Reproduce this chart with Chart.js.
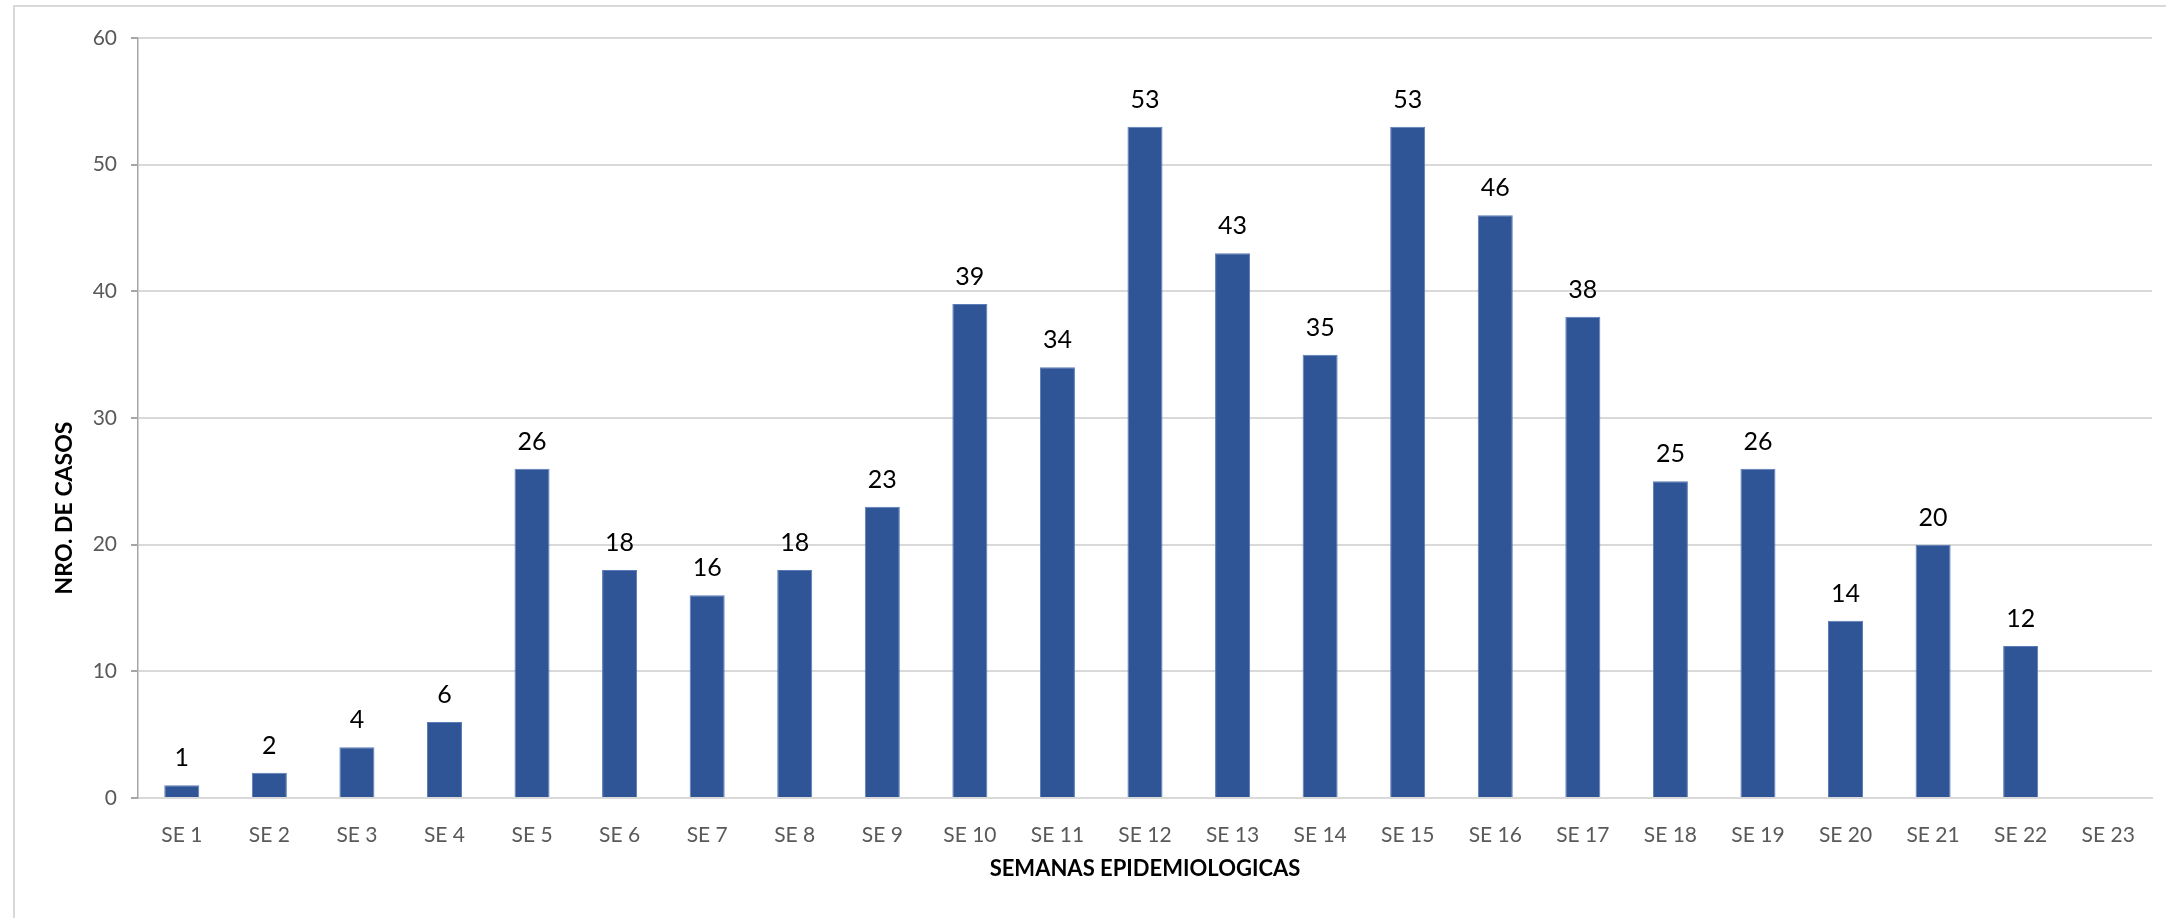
<!DOCTYPE html>
<html>
<head>
<meta charset="utf-8">
<script src="https://cdn.jsdelivr.net/npm/chart.js@4"></script>
<style>
  html, body { margin: 0; padding: 0; background: #fff; }
  #caja { width: 2166px; height: 918px; position: relative; }
</style>
</head>
<body>
<div id="caja"><canvas id="grafico"></canvas></div>
<script>
// semanas epidemiologicas y casos
const semanas = ['SE 1', 'SE 2', 'SE 3', 'SE 4', 'SE 5', 'SE 6', 'SE 7', 'SE 8', 'SE 9', 'SE 10', 'SE 11', 'SE 12',
  'SE 13', 'SE 14', 'SE 15', 'SE 16', 'SE 17', 'SE 18', 'SE 19', 'SE 20', 'SE 21', 'SE 22', 'SE 23'];
const casos = [1, 2, 4, 6, 26, 18, 16, 18, 23, 39, 34, 53, 43, 35, 53, 46, 38, 25, 26, 14, 20, 12, null];
const ticksY = [0, 10, 20, 30, 40, 50, 60];

const tituloX = 'SEMANAS EPIDEMIOLOGICAS';
const tituloY = 'NRO. DE CASOS';

// borde, titulos y etiquetas de valores
const extras = {
  id: 'extras',
  beforeDraw(chart) {
    const c = chart.ctx;
    c.save();
    c.strokeStyle = '#d9d9d9';
    c.lineWidth = 2;
    c.strokeRect(14, 6, 2300, 1100);
    c.restore();
  },
  afterDatasetsDraw(chart) {
    const c = chart.ctx;
    const area = chart.chartArea;
    c.save();
    c.fillStyle = '#000';
    c.font = '25px Lato';
    c.textAlign = 'center';
    c.textBaseline = 'middle';
    chart.getDatasetMeta(0).data.forEach((bar, i) => {
      if (casos[i] == null) return;
      c.fillText(casos[i], bar.x, bar.y - 27);
    });

    c.font = 'bold 22px Lato';
    c.fillText(tituloX, (area.left + area.right) / 2, 869);

    c.font = 'bold 23px Lato';
    c.translate(65, 508);
    c.rotate(-Math.PI / 2);
    c.fillText(tituloY, 0, 0);
    c.restore();
  }
};

const ctx = document.getElementById('grafico').getContext('2d');

new Chart(ctx, {
  type: 'bar',
  data: {
    labels: semanas,
    datasets: [{
      data: casos,
      backgroundColor: '#2f5597',
      borderColor: '#5a7bb5',
      borderWidth: 1,
      categoryPercentage: 1,
      barPercentage: 0.4
    }]
  },
  plugins: [extras],
  options: {
    responsive: true,
    maintainAspectRatio: false,
    animation: false,
    layout: { padding: { top: 38, right: 14, left: 0, bottom: 0 } },
    plugins: {
      legend: { display: false },
      tooltip: { enabled: false }
    },
    scales: {
      x: {
        grid: { display: false },
        border: { color: '#d9d9d9', width: 2 },
        ticks: { color: '#595959', font: { family: 'Lato', size: 21 }, padding: 17, maxRotation: 0 },
        afterFit(s) { s.height = 120; }
      },
      y: {
        min: 0,
        max: 60,
        afterBuildTicks(s) { s.ticks = ticksY.map(v => ({ value: v })); },
        grid: { color: '#d9d9d9', lineWidth: 2, tickColor: '#a6a6a6', tickLength: 7 },
        border: { color: '#a6a6a6', width: 1.5 },
        ticks: { color: '#595959', font: { family: 'Lato', size: 21 }, padding: 14 },
        afterFit(s) { s.width = 138; }
      }
    }
  }
});
</script>
</body>
</html>
